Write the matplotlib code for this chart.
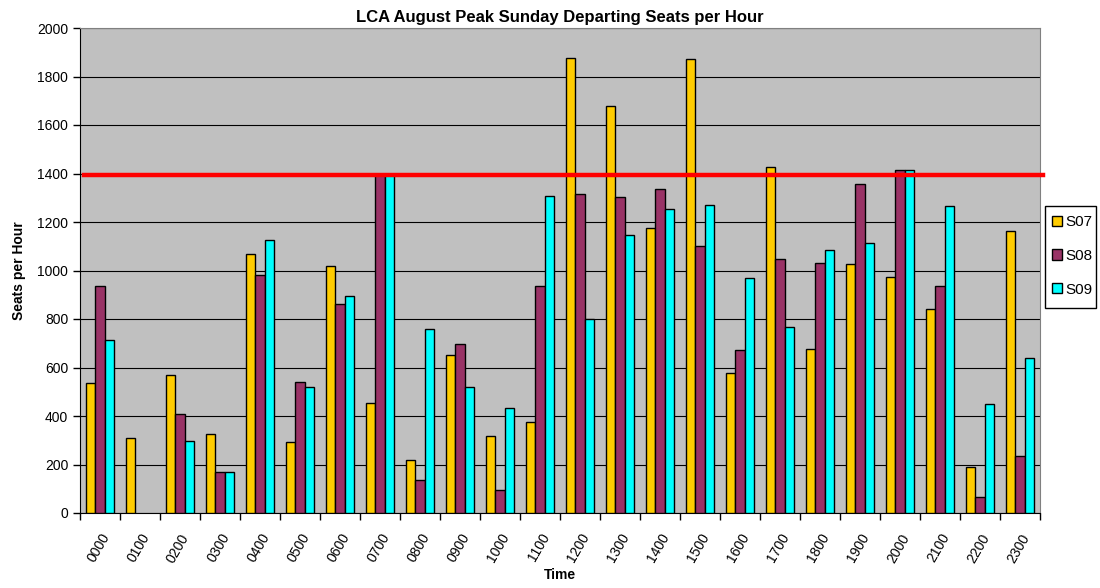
import numpy as np
import matplotlib
matplotlib.use('Agg')
import matplotlib.pyplot as plt
from matplotlib.patches import Rectangle

plt.rcParams['font.family'] = ['Liberation Sans', 'DejaVu Sans']

hours = ['0000', '0100', '0200', '0300', '0400', '0500', '0600', '0700',
         '0800', '0900', '1000', '1100', '1200', '1300', '1400', '1500',
         '1600', '1700', '1800', '1900', '2000', '2100', '2200', '2300']
s07 = [535, 310, 568, 325, 1068, 292, 1018, 452, 218, 652, 316, 375,
       1878, 1680, 1175, 1873, 578, 1425, 678, 1025, 975, 843, 188, 1163]
s08 = [935, 0, 407, 168, 980, 540, 863, 1395, 135, 696, 96, 935,
       1315, 1302, 1338, 1100, 672, 1048, 1030, 1355, 1415, 938, 68, 235]
s09 = [712, 0, 295, 168, 1127, 520, 893, 1395, 758, 520, 434, 1307,
       800, 1148, 1252, 1272, 970, 765, 1083, 1115, 1415, 1265, 448, 638]
capacity = 1395

fig = plt.figure(figsize=(11, 5.88), dpi=100)
ax = fig.add_axes([80 / 1100, 1 - 513 / 588, 960 / 1100, 485 / 588])
ax.set_facecolor('#C0C0C0')

x = np.arange(len(hours))
w = 0.235
series = [('S07', s07, '#FFCC00'), ('S08', s08, '#993366'), ('S09', s09, '#00FFFF')]
for i, (name, vals, col) in enumerate(series):
    vals = np.array(vals, dtype=float)
    ax.bar(x + (i - 1) * w, np.where(vals > 0, vals, np.nan), w, color=col,
           edgecolor='black', linewidth=1, label=name, zorder=3)

# capacity line
ax.plot([-0.4, 23.58], [capacity, capacity], color='#FF0000', lw=3.2,
        clip_on=False, zorder=4)

ax.set_xlim(-0.5, 23.5)
ax.set_ylim(0, 2000)
ax.set_yticks(range(0, 2001, 200))
ax.yaxis.grid(True, color='black', lw=0.8, zorder=1)
ax.set_axisbelow(True)

ax.set_xticks(np.arange(-0.5, 24, 1))
ax.set_xticklabels([])
ax.set_xticks(x, minor=True)
ax.set_xticklabels(hours, minor=True, rotation=60, ha='right',
                   rotation_mode='anchor', fontsize=10)
ax.tick_params(axis='x', which='minor', length=0, pad=13)
ax.tick_params(axis='x', which='major', length=5, direction='out', width=1)
ax.tick_params(axis='y', length=5, direction='out', labelsize=10, width=1)

for s in ['top', 'right']:
    ax.spines[s].set_color('#808080')
for s in ['left', 'bottom']:
    ax.spines[s].set_color('black')

ax.set_ylabel('Seats per Hour', fontsize=10, fontweight='bold', labelpad=8)
ax.set_xlabel('Time', fontsize=10, fontweight='bold', labelpad=2)
ax.set_title('LCA August Peak Sunday Departing Seats per Hour',
             fontsize=12, fontweight='bold', pad=4)

# legend without frame, box drawn separately
leg = fig.legend(loc='upper left', bbox_to_anchor=(1052 / 1100, 1 - 215 / 588),
                 frameon=False, fontsize=11, handlelength=0.65, handleheight=0.65,
                 labelspacing=1.3, borderpad=0, handletextpad=0.2,
                 borderaxespad=0)
fig.patches.append(Rectangle((1045 / 1100, 1 - 308 / 588), 51 / 1100, 102 / 588,
                             transform=fig.transFigure, fill=False,
                             edgecolor='black', lw=1))

fig.savefig('out.png', dpi=100)
